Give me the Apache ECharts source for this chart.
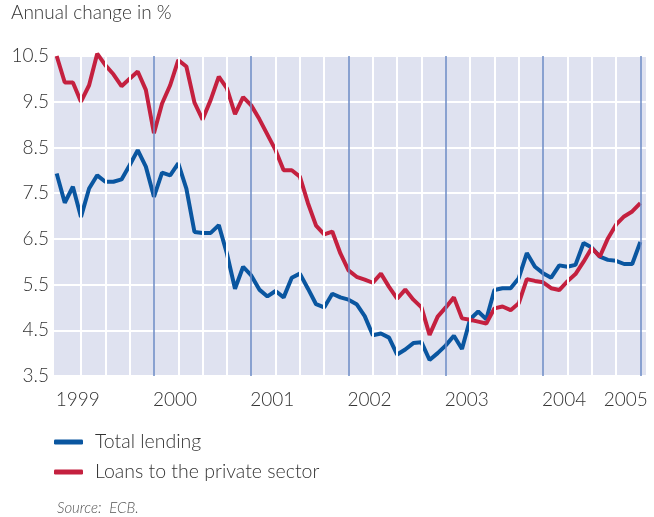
<!DOCTYPE html>
<html>
<head>
<meta charset="utf-8">
<script src="https://cdn.jsdelivr.net/npm/echarts@6/dist/echarts.min.js"></script>
<style>
html,body{margin:0;padding:0;background:#fff;}
#chart{width:654px;height:517px;}
</style>
</head>
<body>
<div id="chart"></div>
<script>
// Monthly observations, January 1999 (index 0) to January 2005 (index 72)
const startYear = 1999;
const yearLabels = ["1999", "2000", "2001", "2002", "2003", "2004", "2005"];
const yTicks = [3.5, 4.5, 5.5, 6.5, 7.5, 8.5, 9.5, 10.5];
const seriesNames = ["Total lending", "Loans to the private sector"];
const totalLending = [
  7.93, 7.29, 7.64, 6.98, 7.60, 7.89, 7.75, 7.75, 7.80, 8.11, 8.44, 8.08,
  7.42, 7.95, 7.89, 8.15, 7.60, 6.65, 6.63, 6.63, 6.80, 6.18, 5.41, 5.89,
  5.70, 5.39, 5.24, 5.36, 5.22, 5.65, 5.74, 5.41, 5.07, 5.00, 5.30, 5.22,
  5.17, 5.07, 4.81, 4.39, 4.43, 4.34, 3.97, 4.08, 4.22, 4.24, 3.85, 4.00,
  4.17, 4.38, 4.09, 4.74, 4.91, 4.74, 5.38, 5.42, 5.42, 5.64, 6.19, 5.89,
  5.75, 5.65, 5.92, 5.89, 5.93, 6.41, 6.31, 6.11, 6.04, 6.02, 5.95, 5.95,
  6.43
];
const privateLoans = [
  10.50, 9.92, 9.92, 9.50, 9.86, 10.55, 10.30, 10.10, 9.84, 10.00, 10.16, 9.76,
  8.81, 9.46, 9.86, 10.41, 10.27, 9.48, 9.11, 9.54, 10.05, 9.79, 9.23, 9.60,
  9.42, 9.12, 8.78, 8.44, 8.00, 8.00, 7.86, 7.28, 6.79, 6.60, 6.66, 6.18,
  5.81, 5.67, 5.61, 5.54, 5.74, 5.45, 5.19, 5.39, 5.17, 5.00, 4.40, 4.80,
  5.00, 5.22, 4.76, 4.73, 4.69, 4.65, 4.98, 5.02, 4.94, 5.09, 5.62, 5.58,
  5.55, 5.42, 5.38, 5.57, 5.73, 6.00, 6.30, 6.11, 6.51, 6.81, 6.99, 7.10,
  7.28
];

const FONT = 'Lato, "Open Sans", sans-serif';
const TXT = '#333333';
const BLUE = '#0a56a0';
const RED = '#c4203f';
const W = 300;

const toPairs = arr => arr.map((v, i) => [i, v]);
const nMonths = totalLending.length;

// vertical grid: white quarter lines, blue year lines
const quarterLines = [], yearLines = [];
for (let m = 3; m < nMonths; m += 3) {
  if (m % 12 === 0) yearLines.push({ xAxis: m });
  else quarterLines.push({ xAxis: m });
}
// label anchor months (a little into each year; last one pulled in to fit)
const labelMonths = yearLabels.map((y, i) => i < yearLabels.length - 1 ? i * 12 + 2.6 : (i - 1) * 12 + 10.2);

const chart = echarts.init(document.getElementById('chart'), null, { renderer: 'canvas' });
chart.setOption({
  animation: false,
  title: [
    { text: 'Annual change in %', left: 11, top: 3, padding: 0,
      textStyle: { fontFamily: FONT, fontSize: 19, fontWeight: W, color: TXT } },
    { text: 'Source:  ECB.', left: 57, top: 501, padding: 0,
      textStyle: { fontFamily: FONT, fontSize: 15, fontWeight: 300, fontStyle: 'italic', color: '#555' } }
  ],
  legend: {
    orient: 'vertical', left: 54, top: 432, padding: 0,
    itemWidth: 29, itemHeight: 5, itemGap: 10,
    icon: 'roundRect',
    data: seriesNames,
    textStyle: { fontFamily: FONT, fontSize: 19.5, fontWeight: W, color: TXT, lineHeight: 20, padding: [0, 0, 0, 7] }
  },
  grid: {
    left: 54, right: 8, top: 56, bottom: 141,
    show: true, backgroundColor: '#dfe2f0', borderWidth: 0
  },
  xAxis: {
    type: 'value', min: -0.33, max: 72.7,
    axisLine: { show: false }, axisTick: { show: false }, splitLine: { show: false },
    axisLabel: {
      customValues: labelMonths,
      formatter: v => String(startYear + Math.round((v - 2.6) / 12)),
      fontFamily: FONT, fontSize: 19, fontWeight: W, color: TXT, margin: 14
    }
  },
  yAxis: {
    type: 'value', min: yTicks[0], max: yTicks[yTicks.length - 1], interval: 1,
    axisLine: { show: false }, axisTick: { show: false },
    splitLine: { show: true, lineStyle: { color: '#ffffff', width: 2 } },
    axisLabel: { fontFamily: FONT, fontSize: 19, fontWeight: W, color: TXT, margin: 5,
      formatter: v => v.toFixed(1) }
  },
  series: [
    { name: '_grid', type: 'line', data: [], silent: true, z: 1,
      markLine: { silent: true, symbol: 'none', label: { show: false }, animation: false,
        data: quarterLines.map(d => Object.assign({ lineStyle: { color: '#ffffff', width: 2, type: 'solid' } }, d))
          .concat(yearLines.map(d => Object.assign({ lineStyle: { color: '#6d8bc6', width: 1.5, type: 'solid' } }, d))) } },
    { name: seriesNames[0], type: 'line', data: toPairs(totalLending), showSymbol: false, clip: false, z: 3,
      color: BLUE, lineStyle: { width: 4, color: BLUE } },
    { name: seriesNames[1], type: 'line', data: toPairs(privateLoans), showSymbol: false, clip: false, z: 4,
      color: RED, lineStyle: { width: 4, color: RED } }
  ]
});
</script>
</body>
</html>
